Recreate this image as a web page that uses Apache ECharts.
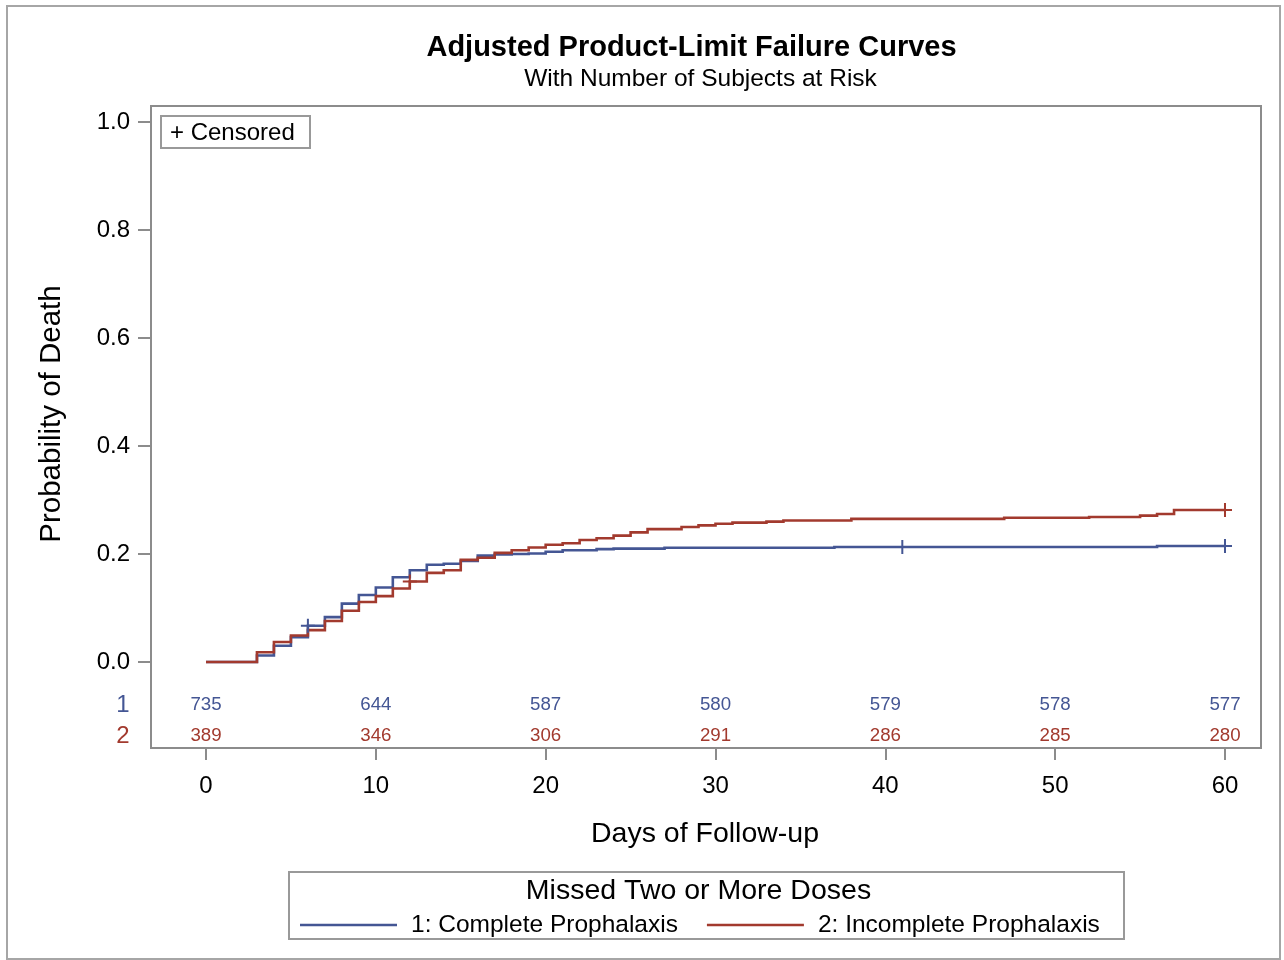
<!DOCTYPE html>
<html>
<head>
<meta charset="utf-8">
<script src="https://cdn.jsdelivr.net/npm/echarts@6/dist/echarts.min.js"></script>
<style>
html,body{margin:0;padding:0;background:#fff;}
#chart{width:1284px;height:960px;}
</style>
</head>
<body>
<div id="chart"></div>
<script>
// ---- Data ----
const group1Name = '1: Complete Prophalaxis';
const group2Name = '2: Incomplete Prophalaxis';

// Group 1 (blue) step curve: event times (days) and failure probability after each step
const g1Days   = [0, 3, 4, 5, 6, 7, 8, 9, 10, 11, 12, 13, 14, 15, 16, 17, 18, 19, 20, 21, 23, 24, 27, 37, 56, 60];
const g1Values = [0, 0.012, 0.030, 0.046, 0.067, 0.083, 0.108, 0.124, 0.138, 0.157, 0.170, 0.180, 0.182, 0.187, 0.197, 0.199, 0.200, 0.201, 0.204, 0.207, 0.209, 0.210, 0.2115, 0.213, 0.2148, 0.2148];

// Group 2 (red) step curve
const g2Days   = [0, 3, 4, 5, 6, 7, 8, 9, 10, 11, 12, 13, 14, 15, 16, 17, 18, 19, 20, 21, 22, 23, 24, 25, 26, 28, 29, 30, 31, 33, 34, 38, 47, 52, 55, 56, 57, 60];
const g2Values = [0, 0.018, 0.037, 0.049, 0.059, 0.076, 0.095, 0.111, 0.122, 0.136, 0.149, 0.165, 0.170, 0.189, 0.193, 0.202, 0.207, 0.212, 0.217, 0.220, 0.226, 0.229, 0.234, 0.240, 0.246, 0.250, 0.253, 0.256, 0.258, 0.260, 0.262, 0.265, 0.267, 0.2685, 0.271, 0.274, 0.2815, 0.2815];

// Censored observations
const g1CensorDays   = [6, 41, 60];
const g1CensorValues = [0.067, 0.213, 0.2148];
const g2CensorDays   = [12, 60];
const g2CensorValues = [0.149, 0.2815];

// Number at risk table
const riskDays = [0, 10, 20, 30, 40, 50, 60];
const g1AtRisk = [735, 644, 587, 580, 579, 578, 577];
const g2AtRisk = [389, 346, 306, 291, 286, 285, 280];

// Axis tick labels
const xTicks = [0, 10, 20, 30, 40, 50, 60];
const yTicks = [0, 0.2, 0.4, 0.6, 0.8, 1.0];

// ---- Styling / layout ----
const BLUE = '#445694';
const RED = '#A23A2E';
const GRAY = '#8c8c8c';
const FONT = '"Liberation Sans", Arial, sans-serif';
const riskRowY = [-0.080, -0.137];   // vertical placement of the at-risk rows inside the frame

const zip = (a, b) => a.map((v, i) => [v, b[i]]);
const plus = 'path://M-1,-7L1,-7L1,-1L7,-1L7,1L1,1L1,7L-1,7L-1,1L-7,1L-7,-1L-1,-1Z';

// Step curve drawn through the axes' scales (api.coord), one polyline per series
function stepRenderer(days, values, color) {
  return function (params, api) {
    if (params.dataIndex !== 0) return null;
    const pts = [];
    for (let i = 0; i < days.length; i++) {
      if (i > 0) pts.push(api.coord([days[i], values[i - 1]]));
      pts.push(api.coord([days[i], values[i]]));
    }
    return {
      type: 'polyline',
      shape: {points: pts},
      style: {stroke: color, lineWidth: 2.6, fill: null, lineJoin: 'miter'},
      silent: true
    };
  };
}

const chart = echarts.init(document.getElementById('chart'), null, {renderer: 'canvas'});

const option = {
  backgroundColor: '#fff',
  animation: false,
  textStyle: {fontFamily: FONT},
  grid: {
    left: 151, right: 23, top: 106, bottom: 212,
    show: true, borderColor: GRAY, borderWidth: 2, backgroundColor: 'transparent'
  },
  xAxis: {
    type: 'value',
    min: -3.2385, max: 62.12,
    axisLine: {show: false, onZero: false},
    splitLine: {show: false},
    axisTick: {show: true, customValues: xTicks, length: 12, lineStyle: {color: GRAY, width: 2}},
    axisLabel: {customValues: xTicks, fontSize: 24, color: '#000', margin: 26, fontFamily: FONT}
  },
  yAxis: {
    type: 'value',
    min: -0.1593, max: 1.0296,
    axisLine: {show: false, onZero: false},
    splitLine: {show: false},
    axisTick: {show: true, customValues: yTicks, length: 13, lineStyle: {color: GRAY, width: 2}},
    axisLabel: {customValues: yTicks, fontSize: 24, color: '#000', margin: 21, fontFamily: FONT,
      formatter: v => Number(v).toFixed(1)}
  },
  legend: {
    data: [group1Name, group2Name],
    left: 300, top: 912.5, padding: 0,
    icon: 'rect', itemWidth: 97, itemHeight: 2.5, itemGap: 29,
    textStyle: {fontSize: 24.5, color: '#000', fontFamily: FONT, padding: [0, 0, 0, 9]},
    selectedMode: false
  },
  series: [
    {
      name: group1Name, type: 'custom', renderItem: stepRenderer(g1Days, g1Values, BLUE),
      data: zip(g1Days, g1Values), itemStyle: {color: BLUE}, z: 3,
      encode: {x: 0, y: 1}
    },
    {
      name: group2Name, type: 'custom', renderItem: stepRenderer(g2Days, g2Values, RED),
      data: zip(g2Days, g2Values), itemStyle: {color: RED}, z: 4,
      encode: {x: 0, y: 1}
    },
    {
      name: 'c1', type: 'scatter', symbol: plus, symbolSize: 14,
      data: zip(g1CensorDays, g1CensorValues), itemStyle: {color: BLUE, opacity: 1}, z: 5, silent: true
    },
    {
      name: 'c2', type: 'scatter', symbol: plus, symbolSize: 14,
      data: zip(g2CensorDays, g2CensorValues), itemStyle: {color: RED, opacity: 1}, z: 5, silent: true
    },
    {
      name: 'risk1', type: 'scatter', symbolSize: 1, itemStyle: {color: 'rgba(0,0,0,0)', opacity: 1}, silent: true,
      data: riskDays.map((d, i) => [d, riskRowY[0], g1AtRisk[i]]),
      label: {show: true, position: 'inside', formatter: p => String(p.data[2]),
        fontSize: 18.7, color: BLUE, fontFamily: FONT}
    },
    {
      name: 'risk2', type: 'scatter', symbolSize: 1, itemStyle: {color: 'rgba(0,0,0,0)', opacity: 1}, silent: true,
      data: riskDays.map((d, i) => [d, riskRowY[1], g2AtRisk[i]]),
      label: {show: true, position: 'inside', formatter: p => String(p.data[2]),
        fontSize: 18.7, color: RED, fontFamily: FONT}
    }
  ],
  graphic: [
    // outer border
    {type: 'rect', shape: {x: 7, y: 6, width: 1273, height: 953}, style: {fill: 'none', stroke: '#a6a6a6', lineWidth: 2}, silent: true},
    // titles
    {type: 'text', x: 691.5, y: 47.5, style: {text: 'Adjusted Product-Limit Failure Curves', font: 'bold 29px ' + FONT, fill: '#000', align: 'center', verticalAlign: 'middle'}},
    {type: 'text', x: 700.5, y: 79, style: {text: 'With Number of Subjects at Risk', font: '24.5px ' + FONT, fill: '#000', align: 'center', verticalAlign: 'middle'}},
    // axis titles
    {type: 'text', x: 705, y: 834, style: {text: 'Days of Follow-up', font: '28.5px ' + FONT, fill: '#000', align: 'center', verticalAlign: 'middle'}},
    {type: 'text', x: 52, y: 414, rotation: Math.PI / 2, style: {text: 'Probability of Death', font: '29.5px ' + FONT, fill: '#000', align: 'center', verticalAlign: 'middle'}},
    // at-risk row labels
    {type: 'text', x: 123, y: 705, style: {text: '1', font: '24px ' + FONT, fill: BLUE, align: 'center', verticalAlign: 'middle'}},
    {type: 'text', x: 123, y: 736, style: {text: '2', font: '24px ' + FONT, fill: RED, align: 'center', verticalAlign: 'middle'}},
    // censored inset legend
    {type: 'rect', shape: {x: 161, y: 116, width: 149, height: 32}, style: {fill: '#fff', stroke: '#999', lineWidth: 2}, z: 10},
    {type: 'text', x: 170, y: 133, z: 11, style: {text: '+ Censored', font: '24px ' + FONT, fill: '#000', align: 'left', verticalAlign: 'middle'}},
    // bottom legend box and title
    {type: 'rect', shape: {x: 289, y: 872, width: 835, height: 67}, style: {fill: 'none', stroke: '#999', lineWidth: 2}},
    {type: 'text', x: 698.5, y: 891, style: {text: 'Missed Two or More Doses', font: '28.5px ' + FONT, fill: '#000', align: 'center', verticalAlign: 'middle'}}
  ]
};

chart.setOption(option);
</script>
</body>
</html>
